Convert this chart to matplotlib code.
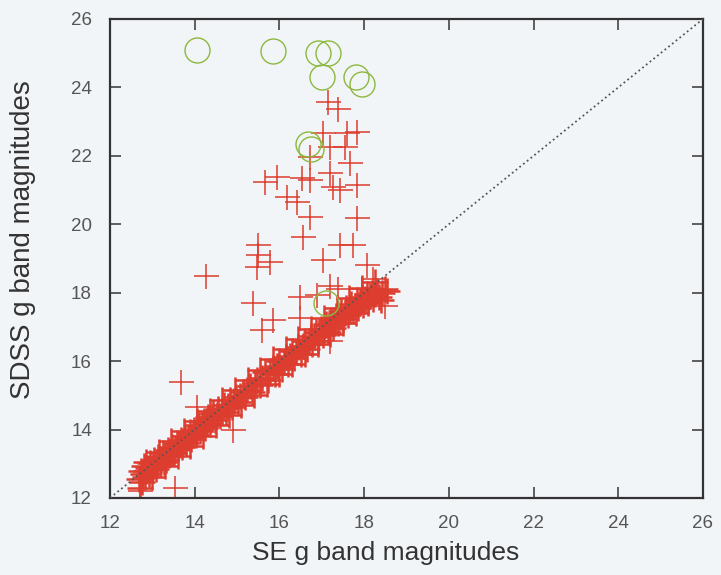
import matplotlib
matplotlib.use('Agg')
import matplotlib.pyplot as plt

# main band of matched stars (SE mag, SDSS mag)
band_x = [12.68, 12.72, 12.75, 12.78, 12.80, 12.83, 12.86, 12.90, 12.93, 12.95, 12.98, 13.02, 13.05, 13.08,
          13.10, 13.14, 13.17, 13.20, 13.24, 13.27, 13.30, 13.33, 13.36, 13.40, 13.43, 13.46, 13.50, 13.53,
          13.57, 13.60, 13.63, 13.67, 13.70, 13.74, 13.77, 13.80, 13.84, 13.88, 13.91, 13.95, 13.98, 14.02,
          14.06, 14.10, 14.13, 14.17, 14.21, 14.25, 14.28, 14.32, 14.36, 14.40, 14.44, 14.48, 14.52, 14.56,
          14.60, 14.65, 14.70, 14.74, 14.78, 14.83, 14.88, 14.93, 14.98, 15.03, 15.08, 15.13, 15.18, 15.24,
          15.30, 15.36, 15.42, 15.48, 15.54, 15.60, 15.66, 15.72, 15.78, 15.84, 15.90, 15.95, 16.00, 16.05,
          16.10, 16.15, 16.20, 16.25, 16.30, 16.35, 16.40, 16.45, 16.50, 16.55, 16.60, 16.65, 16.70, 16.74,
          16.78, 16.82, 16.86, 16.90, 16.94, 16.98, 17.02, 17.06, 17.10, 17.14, 17.18, 17.22, 17.26, 17.30,
          17.34, 17.38, 17.42, 17.46, 17.50, 17.54, 17.58, 17.62, 17.66, 17.70, 17.74, 17.78, 17.82, 17.86,
          17.90, 17.94, 17.98, 18.02, 18.06, 18.10, 18.14, 18.18, 18.22, 18.26, 18.30, 18.35, 18.42, 18.50]
band_y = [12.55, 12.80, 12.48, 12.70, 12.92, 12.60, 12.78, 12.88, 12.70, 13.02, 12.85, 12.90, 13.12, 12.86,
          13.00, 13.20, 12.98, 13.10, 13.30, 13.05, 13.22, 13.12, 13.40, 13.25, 13.35, 13.50, 13.30, 13.45,
          13.62, 13.42, 13.55, 13.70, 13.50, 13.66, 13.80, 13.62, 13.75, 13.92, 13.72, 13.85, 14.00, 13.85,
          13.98, 14.12, 13.95, 14.10, 14.25, 14.05, 14.20, 14.36, 14.15, 14.30, 14.48, 14.28, 14.42, 14.60,
          14.40, 14.55, 14.72, 14.52, 14.68, 14.85, 14.66, 14.82, 14.95, 14.80, 14.98, 15.10, 14.95, 15.15,
          15.28, 15.10, 15.35, 15.45, 15.30, 15.52, 15.68, 15.45, 15.70, 15.80, 15.62, 15.85, 16.00, 15.78,
          15.98, 16.12, 15.92, 16.15, 16.30, 16.08, 16.28, 16.42, 16.20, 16.45, 16.58, 16.35, 16.60, 16.72,
          16.50, 16.70, 16.84, 16.60, 16.82, 16.95, 16.75, 16.92, 17.08, 16.85, 17.05, 17.20, 16.98, 17.15,
          17.32, 17.10, 17.30, 17.45, 17.22, 17.40, 17.55, 17.35, 17.52, 17.68, 17.45, 17.62, 17.78, 17.55,
          17.72, 17.88, 17.65, 17.82, 17.95, 17.75, 17.90, 18.00, 17.82, 17.95, 18.05, 17.88, 17.98, 18.10]

# edges of the band (wider scatter)
edge_x = [12.70, 12.85, 13.00, 13.15, 13.30, 13.45, 13.60, 13.75, 13.90, 14.05, 14.20, 14.35, 14.50, 14.65,
          14.80, 14.95, 15.10, 15.25, 15.40, 15.55, 15.70, 15.85, 16.00, 16.15, 16.30, 16.45, 16.60, 16.75,
          16.90, 17.05, 17.20, 17.35, 17.50, 17.65, 17.80, 17.95, 18.10, 18.25, 18.40, 18.55]
edge_y = [12.30, 13.05, 12.62, 13.35, 12.92, 13.65, 13.22, 13.95, 13.52, 14.25, 13.82, 14.55, 14.12, 14.85,
          14.42, 15.15, 14.72, 15.45, 15.02, 15.75, 15.32, 16.05, 15.62, 16.35, 15.92, 16.65, 16.22, 16.95,
          16.50, 17.25, 16.80, 17.55, 17.10, 17.85, 17.40, 18.15, 17.70, 18.30, 17.80, 18.05]

# scattered red crosses off the relation
out_x = [17.15, 17.38, 17.03, 17.60, 17.83, 17.55, 17.20, 16.72, 15.94, 15.66, 16.53, 16.72, 17.20, 17.27,
         17.43, 17.83, 17.67, 16.18, 16.41, 16.72, 17.83, 16.56, 17.43, 15.50, 17.74, 15.50, 15.78, 15.47,
         17.03, 14.27, 18.07, 17.20, 17.38, 16.49, 16.89, 15.38, 15.85, 15.60, 16.49, 18.50, 17.20, 13.68,
         14.05, 14.90, 13.53, 12.70, 18.20, 17.95]
out_y = [23.57, 23.37, 22.67, 22.67, 22.70, 22.26, 22.26, 21.96, 21.38, 21.23, 21.35, 21.30, 21.50, 21.10,
         21.00, 21.15, 21.80, 20.80, 20.65, 20.20, 20.18, 19.63, 19.40, 19.40, 19.40, 19.10, 18.90, 18.75,
         18.95, 18.50, 18.80, 18.20, 18.10, 17.88, 17.93, 17.70, 17.20, 16.90, 17.25, 17.60, 16.60, 15.39,
         14.65, 13.98, 12.30, 12.20, 18.40, 18.10]

# green circles
circ_x = [14.05, 15.85, 16.90, 17.15, 17.00, 17.80, 17.95, 16.67, 16.75, 17.10]
circ_y = [25.10, 25.05, 25.00, 25.00, 24.30, 24.30, 24.10, 22.35, 22.20, 17.70]

bg = '#f2f5f8'
red = '#dd3d2f'
fig = plt.figure(figsize=(7.21, 5.75), dpi=100, facecolor=bg)
ax = fig.add_axes([0.1526, 0.134, 0.8224, 0.833], facecolor=bg)

ax.plot([12, 26], [12, 26], linestyle=':', color='#555555', lw=1.3, zorder=3)
ax.plot(edge_x, edge_y, '+', color=red, ms=19, mew=1.8, zorder=2)
ax.plot(band_x, band_y, '+', color=red, ms=19, mew=1.8, zorder=2)
ax.plot(out_x, out_y, '+', color=red, ms=18, mew=1.1, zorder=2)
ax.plot(circ_x, circ_y, 'o', mfc='none', mec='#8cb840', ms=18, mew=1.0, zorder=4)

ax.set_xlim(12, 26)
ax.set_ylim(12, 26)
ax.set_xticks(range(12, 27, 2))
ax.set_yticks(range(12, 27, 2))
ax.tick_params(direction='in', length=8, width=1.2, top=True, right=True,
               labelsize=13.5, labelcolor='#555555', color='#444444')
ax.tick_params(axis='x', pad=12)
ax.tick_params(axis='y', pad=13)
for s in ax.spines.values():
    s.set_linewidth(1.6)
    s.set_color('#333333')

ax.set_xlabel('SE g band magnitudes', fontsize=19, color='#333333', family='Liberation Sans')
ax.set_ylabel('SDSS g band magnitudes', fontsize=20, color='#333333', family='Liberation Sans')
ax.xaxis.set_label_coords(0.464, -0.09)
ax.yaxis.set_label_coords(-0.125, 0.539)
for lab in ax.get_xticklabels() + ax.get_yticklabels():
    lab.set_family('Liberation Sans')

fig.savefig('out.png', dpi=100, facecolor=bg)
